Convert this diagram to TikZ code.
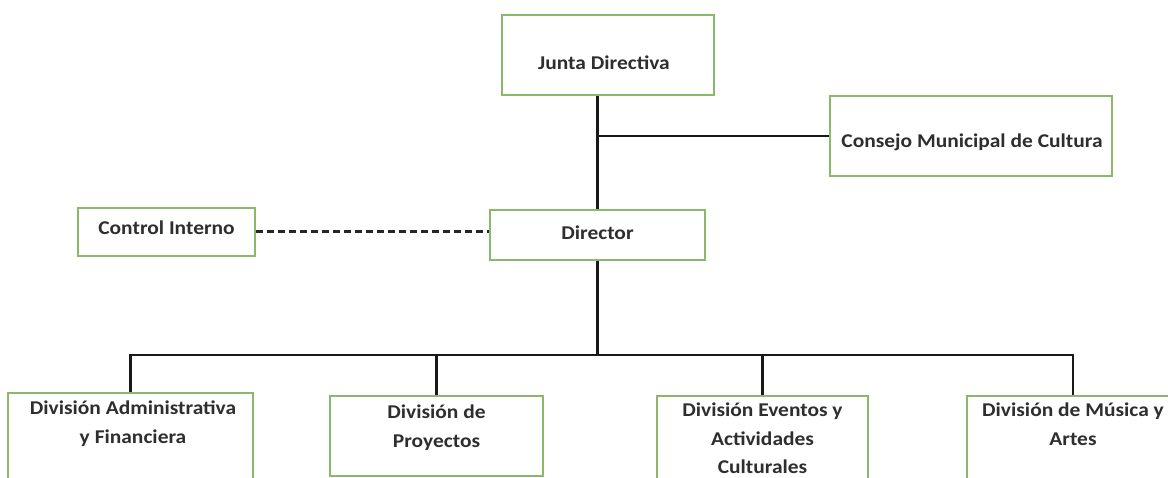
\documentclass[tikz,border=0pt]{standalone}
\usepackage{fontspec}
\setmainfont{Carlito}[FakeStretch=1.1]
\begin{document}
\begin{tikzpicture}[x=1pt,y=-1pt,
  box/.style={draw=boxgreen, line width=2.2pt, fill=white, rectangle, inner sep=0pt},
  lbl/.style={font=\bfseries\fontsize{19.5}{28.5}\selectfont, text=black!82, align=center, inner sep=0pt},
  conn/.style={draw=black!90, line width=2.6pt},
  dconn/.style={draw=black!85, line width=3pt, dash pattern=on 7pt off 4pt}]
\definecolor{boxgreen}{RGB}{140,185,105}
\useasboundingbox (0,0) rectangle (1168,478);
\clip (0,0) rectangle (1168,478);
% boxes
\node[box, minimum width=212pt, minimum height=80pt] (junta) at (608,55) {};
\node[lbl] (juntat) at (604,63) {Junta Directiva};
\node[box, minimum width=282pt, minimum height=80pt] (consejo) at (971,136) {};
\node[lbl] (consejot) at (972,142) {Consejo Municipal de Cultura};
\node[box, minimum width=177pt, minimum height=48pt] (control) at (166.5,232) {};
\node[lbl] (controlt) at (166.5,228) {Control Interno};
\node[box, minimum width=215pt, minimum height=50pt] (director) at (597.5,235) {};
\node[lbl] (directort) at (597.5,233) {Director};
% bottom boxes
\node[box, minimum width=245pt, minimum height=120pt, anchor=north] (b1) at (130.5,392) {};
\node[lbl, anchor=north] (b1t) at (133,401) {División Administrativa\\y Financiera};
\node[box, minimum width=213pt, minimum height=80pt, anchor=north] (b2) at (436.5,395) {};
\node[lbl, anchor=north] (b2t) at (436.5,405) {División de\\Proyectos};
\node[box, minimum width=211pt, minimum height=120pt, anchor=north] (b3) at (762.5,395) {};
\node[lbl, anchor=north] (b3t) at (762.5,403) {División Eventos y\\Actividades\\Culturales};
\node[box, minimum width=212pt, minimum height=120pt, anchor=north] (b4) at (1073,395) {};
\node[lbl, anchor=north] (b4t) at (1073,403) {División de Música y\\Artes};
% connectors
\coordinate (bus) at (597.5,355);
\draw[conn] (director.north) -- (director.north |- junta.south);
\draw[conn] (consejo.west) -- (consejo.west -| director.north);
\draw[dconn] (control.east) -- (control.east -| director.west);
\draw[conn] (director.south) -- (bus);
\draw[conn] (b1.north) |- (bus);
\draw[conn] (b4.north) |- (bus);
\draw[conn] (b2.north) -- (b2.north |- bus);
\draw[conn] (b3.north) -- (b3.north |- bus);
\end{tikzpicture}
\end{document}
